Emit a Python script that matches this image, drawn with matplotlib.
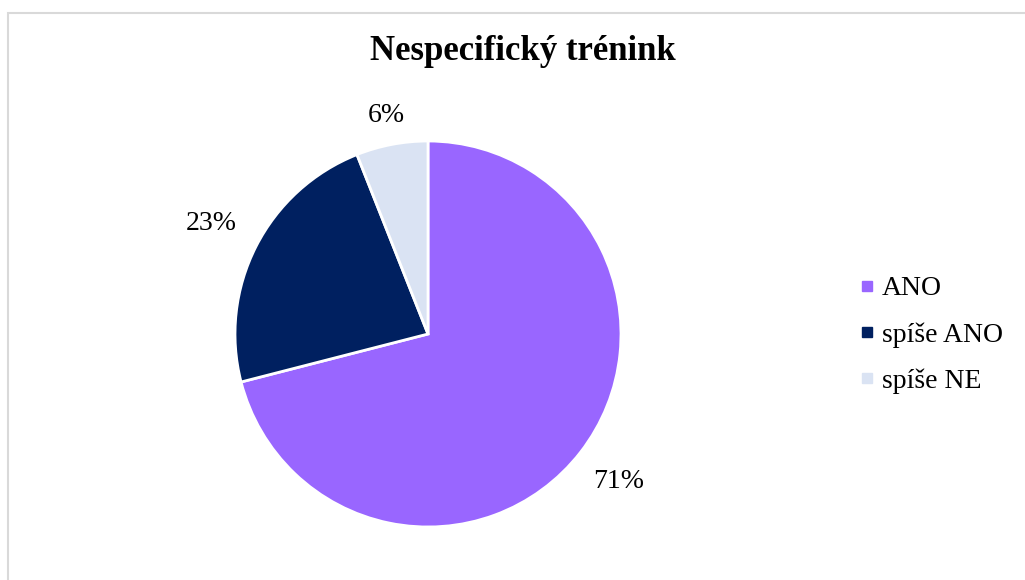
import numpy as np
import matplotlib.pyplot as plt
from matplotlib.lines import Line2D
from matplotlib.patches import Rectangle

# Data
categories = ['ANO', 'spíše ANO', 'spíše NE']
shares = [71, 23, 6]
colors = ['#9966FF', '#002060', '#DAE3F3']

plt.rcParams['font.family'] = ['Liberation Serif', 'DejaVu Serif']

W, H = 1025, 580
fig = plt.figure(figsize=(W / 100, H / 100), dpi=100)

# light frame around the chart area
fig.patches.append(Rectangle((8 / W, -0.05), 1.1, 1 - 13 / H + 0.05,
                             transform=fig.transFigure, fill=False,
                             edgecolor='#D9D9D9', linewidth=1.5))

# pie axes: centre and radius in pixels
cx, cy, r = 428, 334, 193
ax = fig.add_axes([(cx - r) / W, (H - cy - r) / H, 2 * r / W, 2 * r / H])
wedges, texts, autotexts = ax.pie(
    shares, colors=colors, startangle=90, counterclock=False,
    autopct='%1.0f%%', pctdistance=1.23,
    wedgeprops=dict(edgecolor='white', linewidth=2),
    textprops=dict(fontsize=20, color='black'))

# outside-end labels: the small slice sits a bit closer to the rim
for w, t, dist in zip(wedges, autotexts, [1.25, 1.26, 1.15]):
    ang = np.deg2rad((w.theta1 + w.theta2) / 2)
    t.set_position((dist * np.cos(ang), dist * np.sin(ang)))

ax.set_aspect('equal')
ax.set_xlim(-1, 1)
ax.set_ylim(-1, 1)

fig.text(523 / W, 1 - 51 / H, 'Nespecifický trénink', ha='center', va='center',
         fontsize=25, fontweight='bold')

handles = [Line2D([], [], marker='s', linestyle='none', markersize=7,
                  markerfacecolor=c, markeredgecolor=c) for c in colors]
fig.legend(handles, categories, loc='center left',
           bbox_to_anchor=(853 / W, 1 - 335 / H), frameon=False,
           fontsize=20, handletextpad=0.05, labelspacing=0.75,
           handlelength=1.0, borderaxespad=0, borderpad=0)

fig.savefig('out.png', dpi=100)
